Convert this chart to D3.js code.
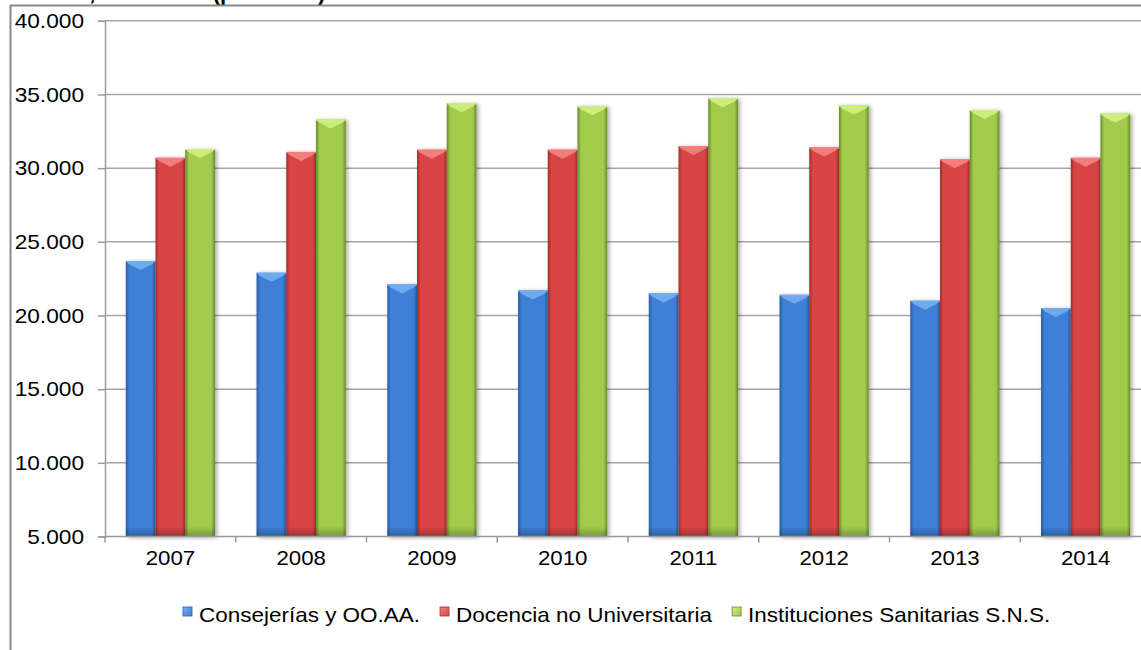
<!DOCTYPE html>
<html>
<head>
<meta charset="utf-8">
<script src="https://cdn.jsdelivr.net/npm/d3@7"></script>
<style>
  html, body { margin: 0; padding: 0; background: #fff; }
  svg { display: block; }
  text { font-family: "Liberation Sans", Arial, sans-serif; }
</style>
</head>
<body>
<svg id="chart" width="1141" height="650"></svg>
<script>
// ---- data ----
const years = ["2007", "2008", "2009", "2010", "2011", "2012", "2013", "2014"];
const seriesNames = ["Consejerías y OO.AA.", "Docencia no Universitaria", "Instituciones Sanitarias S.N.S."];
const consejerias = [23700, 22900, 22100, 21700, 21500, 21400, 21000, 20500];
const docencia    = [30700, 31100, 31250, 31250, 31500, 31400, 30600, 30700];
const sanitarias  = [31300, 33300, 34400, 34200, 34750, 34250, 33950, 33700];
const yTickValues = [5000, 10000, 15000, 20000, 25000, 30000, 35000, 40000];
const titleText = "ocalidad, 2007-2014 (personas)";

// ---- styles ----
const palettes = [
  { mid: "#3d80d6", edge: "#2a5ca3", light: "#74aef0", dark: "#24508f" },
  { mid: "#d94444", edge: "#a02e2e", light: "#f58383", dark: "#8c2727" },
  { mid: "#a0cb4c", edge: "#6a8a2b", light: "#d0ef82", dark: "#5e7a25" }
];

const svg = d3.select("#chart");
const W = 1141, H = 650;
const plotLeft = 105, plotRight = 1151, plotTop = 20.8, plotBottom = 536.5;

const loc = d3.formatLocale({ decimal: ",", thousands: ".", grouping: [3], currency: ["", " €"] });
const fmt = loc.format(",.0f");

const x = d3.scaleBand().domain(years).range([plotLeft, plotRight]).paddingInner(0.318).paddingOuter(0.159);
const xs = d3.scaleBand().domain(d3.range(3)).range([0, x.bandwidth()]).padding(0);
const y = d3.scaleLinear().domain([5000, 40000]).range([plotBottom, plotTop]);

const seriesData = [consejerias, docencia, sanitarias];

// ---- defs ----
const defs = svg.append("defs");
palettes.forEach((p, i) => {
  const g = defs.append("linearGradient").attr("id", "hg" + i).attr("x1", "0").attr("x2", "1").attr("y1", "0").attr("y2", "0");
  g.append("stop").attr("offset", "0").attr("stop-color", p.edge);
  g.append("stop").attr("offset", "0.12").attr("stop-color", p.mid);
  g.append("stop").attr("offset", "0.5").attr("stop-color", p.mid);
  g.append("stop").attr("offset", "0.88").attr("stop-color", p.mid);
  g.append("stop").attr("offset", "1").attr("stop-color", p.edge);
  const lg = defs.append("linearGradient").attr("id", "lg" + i).attr("x1", "0").attr("x2", "1").attr("y1", "0").attr("y2", "1");
  lg.append("stop").attr("offset", "0").attr("stop-color", p.light);
  lg.append("stop").attr("offset", "1").attr("stop-color", p.mid);
});
const bot = defs.append("linearGradient").attr("id", "botg").attr("x1", "0").attr("x2", "0").attr("y1", "0").attr("y2", "1");
bot.append("stop").attr("offset", "0").attr("stop-color", "#000").attr("stop-opacity", 0);
bot.append("stop").attr("offset", "1").attr("stop-color", "#000").attr("stop-opacity", 0.25);
const sh = defs.append("filter").attr("id", "shadow").attr("x", "-20%").attr("y", "-5%").attr("width", "150%").attr("height", "110%");
sh.append("feGaussianBlur").attr("in", "SourceAlpha").attr("stdDeviation", 2);
sh.append("feOffset").attr("dx", 2).attr("dy", 1).attr("result", "ob");
sh.append("feComponentTransfer").append("feFuncA").attr("type", "linear").attr("slope", 0.35);
const mrg = sh.append("feMerge");
mrg.append("feMergeNode");
mrg.append("feMergeNode").attr("in", "SourceGraphic");

// ---- frame and title (title is cropped at the top edge, as in the reference) ----
svg.append("text").attr("x", 0).attr("y", 0).attr("font-size", 22).attr("font-weight", "bold").attr("fill", "#000").text(titleText);
svg.append("line").attr("x1", 10).attr("x2", W).attr("y1", 5.5).attr("y2", 5.5).attr("stroke", "#8a8a8a").attr("stroke-width", 2);
svg.append("line").attr("x1", 10.5).attr("x2", 10.5).attr("y1", 5).attr("y2", H).attr("stroke", "#8a8a8a").attr("stroke-width", 2);

// ---- gridlines ----
svg.append("g").selectAll("line").data(yTickValues.filter(v => v > 5000)).join("line")
  .attr("x1", plotLeft).attr("x2", W)
  .attr("y1", d => y(d)).attr("y2", d => y(d))
  .attr("stroke", "#a6a6a6").attr("stroke-width", 1.5);

// ---- y axis ----
const yAxis = svg.append("g").attr("transform", `translate(${plotLeft},0)`)
  .call(d3.axisLeft(y).tickValues(yTickValues).tickFormat(fmt).tickSize(7).tickPadding(14));
yAxis.select(".domain").attr("stroke", "#9a9a9a").attr("stroke-width", 1.5);
yAxis.selectAll(".tick line").attr("stroke", "#9a9a9a").attr("stroke-width", 1.5);
yAxis.selectAll(".tick text").attr("font-size", 21).attr("font-family", "Liberation Sans, Arial, sans-serif").attr("fill", "#000")
  .each(function () {
    const len = this.getComputedTextLength();
    d3.select(this).attr("textLength", len * 1.08).attr("lengthAdjust", "spacingAndGlyphs");
  });

// ---- bars ----
const groups = svg.append("g").selectAll("g").data(years).join("g")
  .attr("transform", d => `translate(${x(d)},0)`);
groups.each(function (yr, yi) {
  const g = d3.select(this);
  seriesData.forEach((vals, si) => {
    const v = vals[yi];
    const bx = xs(si), bw = xs.bandwidth();
    const top = y(v), h = plotBottom - top;
    const bar = g.append("g").attr("filter", "url(#shadow)");
    bar.append("rect").attr("x", bx).attr("y", top).attr("width", bw).attr("height", h).attr("fill", `url(#hg${si})`);
    bar.append("rect").attr("x", bx).attr("y", plotBottom - 10).attr("width", bw).attr("height", 10).attr("fill", "url(#botg)");
    const bev = 9;
    bar.append("path")
      .attr("d", `M${bx},${top} L${bx + bw},${top} L${bx + bw - 3},${top + 3} L${bx + bw / 2},${top + bev} L${bx + 3},${top + 3} Z`)
      .attr("fill", palettes[si].light).attr("opacity", 0.9);
    bar.append("line").attr("x1", bx).attr("x2", bx + bw).attr("y1", top + 0.5).attr("y2", top + 0.5)
      .attr("stroke", palettes[si].light).attr("stroke-width", 1);
  });
});

// ---- x axis ----
const xAxisG = svg.append("g").attr("transform", `translate(0,${plotBottom})`);
xAxisG.append("line").attr("x1", plotLeft).attr("x2", W).attr("y1", 0).attr("y2", 0).attr("stroke", "#9a9a9a").attr("stroke-width", 1.5);
const bounds = d3.range(years.length + 1).map(i => plotLeft + i * x.step());
xAxisG.selectAll("line.tk").data(bounds).join("line").attr("class", "tk")
  .attr("x1", d => d).attr("x2", d => d).attr("y1", 0).attr("y2", 6)
  .attr("stroke", "#9a9a9a").attr("stroke-width", 1.5);
const xAxis = xAxisG.append("g").call(d3.axisBottom(x).tickSize(0).tickPadding(14));
xAxis.select(".domain").remove();
xAxis.selectAll(".tick text").attr("font-size", 21).attr("font-family", "Liberation Sans, Arial, sans-serif").attr("fill", "#000")
  .each(function () {
    const len = this.getComputedTextLength();
    d3.select(this).attr("textLength", len * 1.06).attr("lengthAdjust", "spacingAndGlyphs");
  });

// ---- legend ----
const legend = svg.append("g");
let lx = 183;
const ly = 607;
seriesNames.forEach((name, i) => {
  const item = legend.append("g");
  item.append("rect").attr("x", lx).attr("y", ly).attr("width", 9).attr("height", 9)
    .attr("fill", `url(#lg${i})`).attr("stroke", palettes[i].edge).attr("stroke-width", 0.8);
  const t = item.append("text").attr("x", lx + 16).attr("y", ly + 15)
    .attr("font-size", 21).attr("fill", "#000").text(name);
  const len = t.node().getComputedTextLength();
  const stretched = len * 1.07;
  t.attr("textLength", stretched).attr("lengthAdjust", "spacingAndGlyphs");
  lx += 16 + stretched + 20;
});
</script>
</body>
</html>
